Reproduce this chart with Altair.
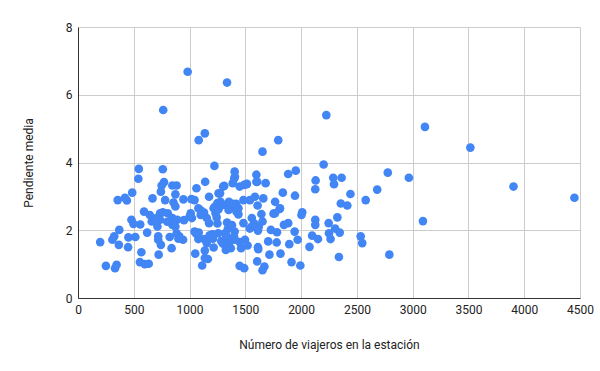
import altair as alt
import pandas as pd

viajeros = [983, 1336, 764, 2226, 3110, 1137, 1082, 1795, 3517, 1654, 2202, 1223, 3904, 4450, 3092, 2791,
            2777, 2966, 2682, 2579, 2442, 2414, 2356, 2363, 2288, 2295, 2325, 2305, 2346, 2247, 2264, 2250,
            2339, 2534, 2548, 2130, 2127, 2127, 2127, 2099, 2151, 2075, 1993, 1914, 1969, 1942, 1894, 1884,
            1846, 1945, 1952, 1884, 2010, 2003, 1836, 1808, 1767, 1753, 1784, 1781, 1815, 1716, 1705, 1729,
            1682, 1661, 1644, 1654, 1671, 1654, 1606, 1616, 1613, 1599, 1599, 1586, 1610, 1613, 1558, 1558,
            1541, 1514, 1483, 1490, 1449, 1438, 1418, 1387, 1404, 1401, 1387, 1353, 1363, 1438, 1483, 1497,
            1462, 1449, 1490, 1404, 1404, 1370, 1336, 1318, 1336, 1353, 1370, 1325, 1284, 1257, 1301, 1260,
            1277, 1260, 1233, 1216, 1243, 1205, 1216, 1164, 1137, 1113, 1137, 1154, 1130, 1175, 1154, 1130,
            1175, 1140, 1079, 1099, 1082, 1079, 1051, 1045, 1021, 1010, 1062, 1045, 1017, 945, 942, 908,
            884, 839, 822, 846, 873, 846, 890, 805, 873, 856, 873, 884, 846, 771, 750, 743, 760, 781, 760,
            736, 736, 712, 719, 719, 743, 723, 668, 644, 661, 620, 592, 558, 545, 541, 568, 555, 599, 634,
            486, 438, 421, 356, 479, 497, 370, 514, 452, 449, 325, 308, 366, 199, 250, 332, 346,
            1407, 1607, 1311, 1512, 1273, 1811, 1766, 1228, 1300, 1350, 1420, 1250, 1540, 1580, 1620, 1344,
            1380, 1180, 1210, 1300, 1330, 1450, 1520, 1060, 1100, 1250, 1400, 950, 1000, 800, 900, 700]
pendiente = [6.68, 6.36, 5.55, 5.40, 5.05, 4.86, 4.66, 4.66, 4.44, 4.32, 3.94, 3.90, 3.29, 2.96, 2.27, 1.28,
             3.70, 3.55, 3.20, 2.89, 3.07, 2.73, 2.79, 3.55, 3.55, 3.36, 2.38, 2.05, 1.93, 2.21, 1.74, 1.91,
             1.21, 1.82, 1.62, 3.47, 3.21, 2.31, 2.16, 1.84, 1.74, 1.51, 0.96, 1.06, 1.72, 1.96, 1.59, 2.21,
             2.16, 3.02, 3.76, 3.66, 2.53, 2.45, 3.11, 2.63, 2.84, 2.49, 1.94, 1.64, 1.31, 1.28, 1.67, 2.01,
             3.39, 2.94, 2.48, 2.26, 0.93, 0.82, 1.08, 1.44, 1.50, 3.64, 3.43, 2.99, 2.73, 1.99, 2.36, 2.11,
             2.89, 3.37, 2.89, 3.34, 3.29, 2.65, 2.78, 2.78, 3.73, 3.53, 3.39, 2.84, 2.68, 2.47, 2.21, 1.72,
             1.47, 0.95, 0.88, 1.72, 1.96, 2.09, 2.23, 1.91, 1.79, 1.62, 1.47, 1.42, 1.68, 1.91, 3.29, 3.09,
             2.84, 2.62, 2.50, 2.65, 2.38, 1.88, 1.49, 1.15, 1.18, 0.96, 1.40, 1.62, 1.74, 2.21, 2.36, 2.52,
             2.99, 3.43, 2.65, 2.59, 1.93, 1.74, 1.31, 1.96, 2.36, 2.50, 3.24, 2.89, 2.92, 2.91, 1.72, 1.82,
             1.91, 1.47, 1.80, 2.16, 2.11, 2.36, 2.31, 2.50, 2.70, 2.82, 3.06, 3.32, 3.32, 3.42, 3.32, 3.14,
             3.80, 2.89, 2.53, 2.50, 2.31, 2.11, 1.82, 1.72, 1.57, 1.28, 2.94, 2.45, 2.26, 1.93, 2.55, 2.17,
             3.81, 3.52, 1.35, 1.06, 1.00, 1.01, 3.11, 2.88, 2.96, 2.89, 2.31, 2.19, 2.01, 1.80, 1.79, 1.50,
             1.82, 1.72, 1.57, 1.65, 0.95, 0.88, 0.98,
             3.58, 3.43, 3.31, 3.36, 3.09, 2.65, 2.50, 2.70, 2.75, 2.60, 2.55, 2.80, 2.05, 2.20, 2.10, 2.05,
             2.15, 1.85, 1.75, 1.60, 1.85, 1.65, 1.55, 1.90, 2.45, 2.20, 1.80, 2.30, 2.40, 2.25, 1.75, 2.35]

df = pd.DataFrame({"x": viajeros, "y": pendiente})

chart = alt.Chart(df).mark_circle(size=75, opacity=1, color="#4285F4").encode(
    x=alt.X("x:Q", title="Número de viajeros en la estación",
            scale=alt.Scale(domain=[0, 4500], nice=False),
            axis=alt.Axis(values=list(range(0, 4501, 500)), format="d",
                          labelFlush=False, titlePadding=24)),
    y=alt.Y("y:Q", title="Pendiente media",
            scale=alt.Scale(domain=[0, 8], nice=False),
            axis=alt.Axis(values=[0, 2, 4, 6, 8], format="d", titlePadding=30)),
).properties(
    width=502, height=271,
    autosize=alt.AutoSizeParams(type="none"),
    padding={"left": 78, "top": 27, "right": 20, "bottom": 73},
).configure_view(stroke=None).configure_axis(
    labelFont="Roboto", titleFont="Roboto", labelFontSize=12, titleFontSize=12,
    labelColor="#222222", titleColor="#222222", titleFontWeight="normal",
    gridColor="#cccccc", ticks=False, labelPadding=6,
    domainColor="#333333",
)

chart.save("out.html", embed_options={"renderer": "svg", "actions": False})
